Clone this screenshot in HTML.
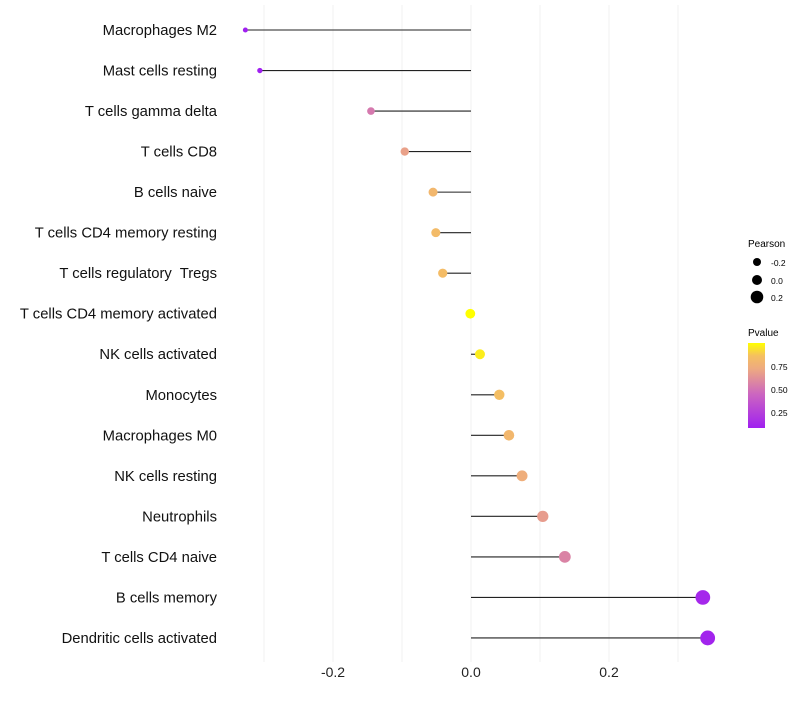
<!DOCTYPE html>
<html><head><meta charset="utf-8"><style>
body{margin:0;background:#fff;font-family:"Liberation Sans",sans-serif}
text{white-space:pre}
</style></head><body>
<svg id="chart" width="800" height="700" xmlns="http://www.w3.org/2000/svg">
<defs><linearGradient id="pg" x1="0" y1="1" x2="0" y2="0">
<stop offset="0" stop-color="#a020f0"/><stop offset="0.4" stop-color="#cc66c0"/><stop offset="0.7" stop-color="#eeaa80"/><stop offset="0.85" stop-color="#f5c060"/><stop offset="1" stop-color="#ffff00"/></linearGradient></defs>
<g id="grid"></g>
<g id="marks"></g>
<g id="labels"></g>
<g id="xt"></g>
<g font-size="10">
<text x="748" y="247" fill="#000">Pearson</text>
<circle cx="757" cy="262" r="4" fill="#000"/><text x="771" y="266" font-size="8.5">-0.2</text>
<circle cx="757" cy="280" r="5" fill="#000"/><text x="771" y="284" font-size="8.5">0.0</text>
<circle cx="757" cy="297" r="6.3" fill="#000"/><text x="771" y="301" font-size="8.5">0.2</text>
</g>
<g>
<text x="748" y="336" font-size="10">Pvalue</text>
<rect x="748" y="343" width="17" height="85" fill="url(#pg)"/>
<text x="771" y="370" font-size="8.5">0.75</text>
<text x="771" y="393" font-size="8.5">0.50</text>
<text x="771" y="416" font-size="8.5">0.25</text>
</g>
</svg>
<script>
const categories=["Macrophages M2","Mast cells resting","T cells gamma delta","T cells CD8","B cells naive","T cells CD4 memory resting","T cells regulatory  Tregs","T cells CD4 memory activated","NK cells activated","Monocytes","Macrophages M0","NK cells resting","Neutrophils","T cells CD4 naive","B cells memory","Dendritic cells activated"];
const pearson=[-0.327,-0.306,-0.145,-0.096,-0.055,-0.051,-0.041,-0.001,0.013,0.041,0.055,0.074,0.104,0.136,0.336,0.343];
const pvalue=[0.05,0.08,0.52,0.68,0.8,0.82,0.83,0.99,0.95,0.84,0.8,0.74,0.66,0.56,0.12,0.1];
const xTicks=[-0.2,0.0,0.2];
const xMinor=[-0.3,-0.1,0.1,0.3];
const ns="http://www.w3.org/2000/svg";
const X=v=>471+v*690;
const Y=i=>30+i*40.53;
const R=v=>4.9+7.3*v;
function lerp(a,b,t){return a.map((x,k)=>Math.round(x+(b[k]-x)*t));}
const stops=[[0,[160,32,240]],[0.4,[204,102,192]],[0.7,[238,170,128]],[0.85,[245,192,96]],[1,[255,255,0]]];
function col(p){let t=Math.max(0,Math.min(1,(p-0.08)/0.91));for(let k=1;k<stops.length;k++){if(t<=stops[k][0]){const a=stops[k-1],b=stops[k];const c=lerp(a[1],b[1],(t-a[0])/(b[0]-a[0]));return `rgb(${c})`;}}return "rgb(255,255,0)";}
function mk(t,a,p){const e=document.createElementNS(ns,t);for(const k in a)e.setAttribute(k,a[k]);p.appendChild(e);return e;}
const grid=document.getElementById('grid'),marks=document.getElementById('marks'),labels=document.getElementById('labels'),xt=document.getElementById('xt');
xMinor.concat(xTicks).forEach(v=>{const l=mk('line',{x1:X(v),x2:X(v),y1:5,y2:662,stroke:'#f0f0f0','stroke-width':1},grid);

});
xTicks.forEach(v=>{const t=mk('text',{x:X(v),y:677,'text-anchor':'middle','font-size':14,fill:'#222'},xt);t.textContent=v.toFixed(1);

});
categories.forEach((c,i)=>{
const l=mk('line',{x1:X(0),x2:X(pearson[i]),y1:Y(i),y2:Y(i),stroke:'#222','stroke-width':1.1},marks);


const d=mk('circle',{cx:X(pearson[i]),cy:Y(i),r:R(pearson[i]),fill:col(pvalue[i])},marks);


const t=mk('text',{x:217,y:Y(i)+5,'text-anchor':'end','font-size':14.8,fill:'#111'},labels);t.textContent=c;


});
</script>
</body></html>
